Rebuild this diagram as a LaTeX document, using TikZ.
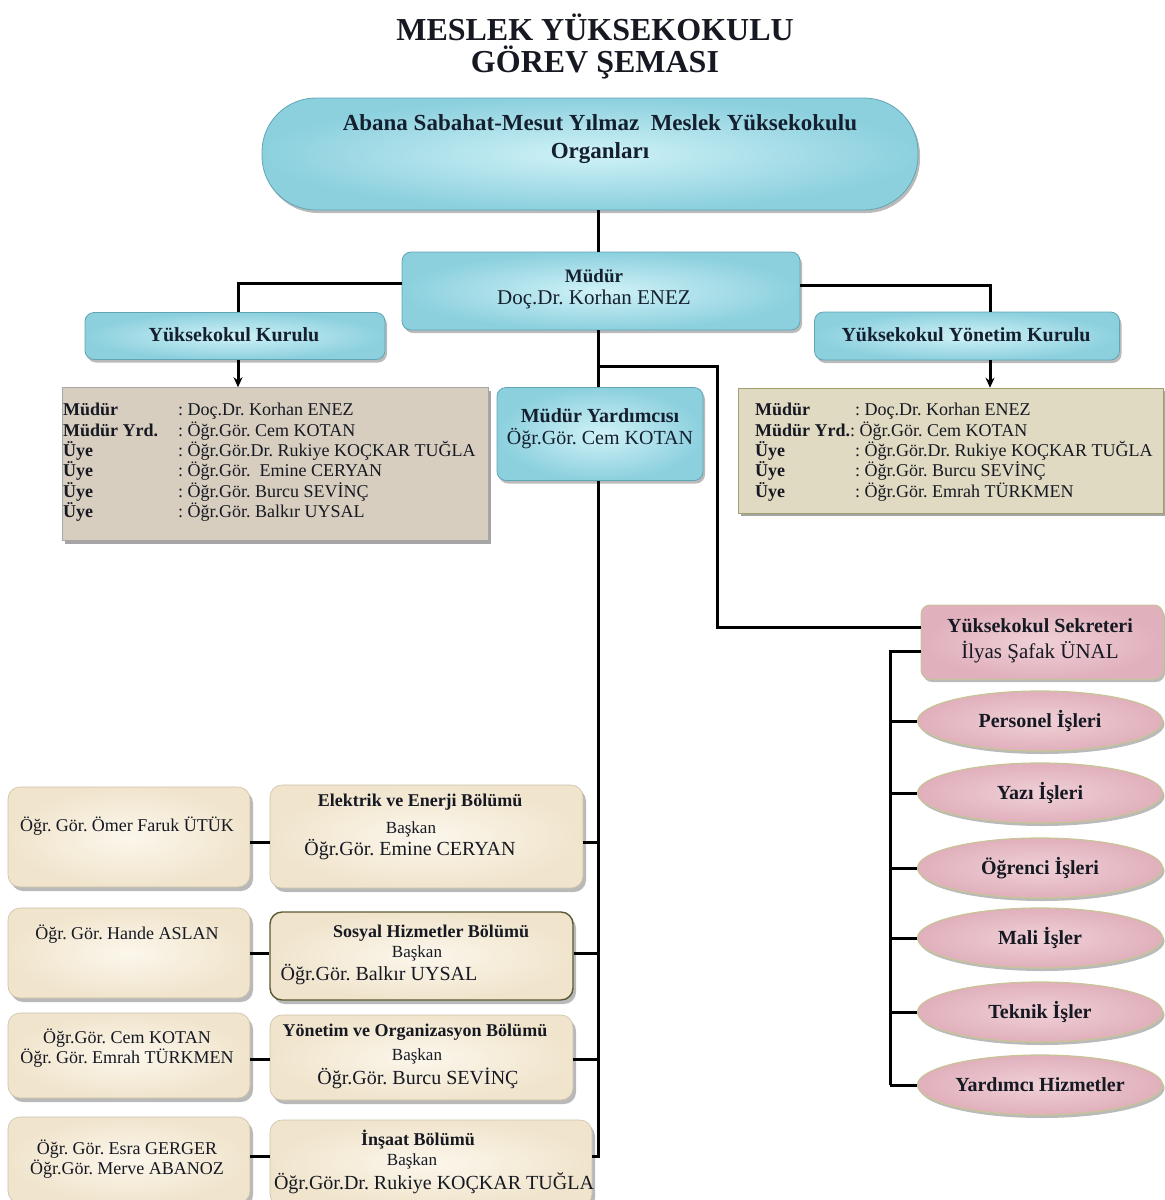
\documentclass[tikz,border=0pt]{standalone}
\usepackage{fontspec}
\setmainfont{Liberation Serif}
\usetikzlibrary{shadows,arrows.meta,shapes.geometric}
\definecolor{bluein}{RGB}{208,242,247}
\definecolor{blueout}{RGB}{140,208,222}
\definecolor{blueedge}{RGB}{96,165,182}
\definecolor{grayA}{RGB}{215,206,191}
\definecolor{grayB}{RGB}{224,218,194}
\definecolor{grayBedge}{RGB}{160,160,110}
\definecolor{beigein}{RGB}{252,247,236}
\definecolor{beigeout}{RGB}{240,228,204}
\definecolor{beigeedge}{RGB}{205,192,168}
\definecolor{pinkin}{RGB}{240,208,214}
\definecolor{pinkout}{RGB}{224,176,188}
\definecolor{pinkedge}{RGB}{200,196,150}
\definecolor{ink}{RGB}{22,24,34}
\definecolor{navy}{RGB}{20,32,48}
\definecolor{olivedge}{RGB}{90,90,50}
\newcommand{\fsz}[2]{\fontsize{#1}{#2}\selectfont}
\frenchspacing
\begin{document}
\frenchspacing
\begin{tikzpicture}[x=1pt,y=-1pt,
  conn/.style={line width=3pt,draw=black},
  arr/.style={conn,-{Stealth[length=10pt,width=9pt]}},
  softshadow/.style={drop shadow={shadow xshift=2pt,shadow yshift=-3pt,opacity=0.45,fill=black!60}},
  bluebox/.style={rectangle,rounded corners=9pt,inner color=bluein,outer color=blueout,draw=blueedge,line width=0.8pt,inner sep=0pt,softshadow},
  graybox/.style={rectangle,fill=grayA,draw=black!35,line width=0.6pt,inner sep=0pt,drop shadow={shadow xshift=3pt,shadow yshift=-3pt,opacity=0.5,fill=black!70}},
  beigebox/.style={rectangle,rounded corners=12pt,inner color=beigein,outer color=beigeout,draw=beigeedge,line width=0.6pt,inner sep=0pt,drop shadow={shadow xshift=3pt,shadow yshift=-4pt,opacity=0.5,fill=black!55}},
  pinkbox/.style={rectangle,rounded corners=9pt,inner color=pinkin,outer color=pinkout,draw=pinkedge,line width=1pt,inner sep=0pt,softshadow},
  pinkell/.style={ellipse,inner color=pinkin,outer color=pinkout,draw=pinkedge,line width=1.2pt,inner sep=0pt,minimum width=245pt,minimum height=60pt,softshadow,text=ink,font=\fsz{20}{22}\bfseries},
  txt/.style={inner sep=0pt,align=center,text=ink},
]
\useasboundingbox (0,0) rectangle (1165,1200);

% title
\node[txt,font=\fsz{32}{32}\bfseries] (title) at (595,46) {MESLEK YÜKSEKOKULU\\GÖREV ŞEMASI};

% top organ shape
\node[bluebox,rounded corners=54pt,minimum width=656pt,minimum height=112pt] (top) at (590,154) {};
\node[txt,text=navy,font=\fsz{23}{28}\bfseries] (topt) at (600,139) {Abana Sabahat-Mesut Yılmaz\ \ Meslek Yüksekokulu\\Organları};

% Müdür
\node[bluebox,minimum width=398pt,minimum height=78pt] (mudur) at (601,291) {};
\node[txt,text=navy,font=\fsz{20}{22}] (mudurt) at (594,289) {{\fsz{19}{22}\bfseries Müdür}\\{\fsz{21}{22}Doç.Dr. Korhan ENEZ}};

% Kurullar
\node[bluebox,minimum width=300pt,minimum height=47pt] (kurulu) at (235,336) {};
\node[txt,text=navy,font=\fsz{20}{22}\bfseries] (kurulut) at (234,335) {Yüksekokul Kurulu};
\node[bluebox,minimum width=305pt,minimum height=48pt] (ykurul) at (967,336) {};
\node[txt,text=navy,font=\fsz{20}{22}\bfseries] (ykurult) at (966,335) {Yüksekokul Yönetim Kurulu};

% gray member boxes
\node[graybox,minimum width=426pt,minimum height=153pt] (g1) at (275,464) {};
\node[inner sep=0pt,align=left,anchor=north west,text=ink,font=\fsz{18}{20.4}] (g1t) at (63,403)
 {\makebox[115pt][l]{\textbf{Müdür}}: Doç.Dr. Korhan ENEZ\\
  \makebox[115pt][l]{\textbf{Müdür Yrd.}}: Öğr.Gör. Cem KOTAN\\
  \makebox[115pt][l]{\textbf{Üye}}: Öğr.Gör.Dr. Rukiye KOÇKAR TUĞLA\\
  \makebox[115pt][l]{\textbf{Üye}}: Öğr.Gör.\ \ Emine CERYAN\\
  \makebox[115pt][l]{\textbf{Üye}}: Öğr.Gör. Burcu SEVİNÇ\\
  \makebox[115pt][l]{\textbf{Üye}}: Öğr.Gör. Balkır UYSAL};
\node[graybox,fill=grayB,draw=grayBedge,minimum width=425pt,minimum height=125pt] (g2) at (950.5,450.5) {};
\node[inner sep=0pt,align=left,anchor=north west,text=ink,font=\fsz{18}{20.4}] (g2t) at (755,403)
 {\makebox[100pt][l]{\textbf{Müdür}}: Doç.Dr. Korhan ENEZ\\
  \textbf{Müdür Yrd.}: Öğr.Gör. Cem KOTAN\\
  \makebox[100pt][l]{\textbf{Üye}}: Öğr.Gör.Dr. Rukiye KOÇKAR TUĞLA\\
  \makebox[100pt][l]{\textbf{Üye}}: Öğr.Gör. Burcu SEVİNÇ\\
  \makebox[100pt][l]{\textbf{Üye}}: Öğr.Gör. Emrah TÜRKMEN};

% Müdür Yardımcısı
\node[bluebox,minimum width=206pt,minimum height=93pt] (myrd) at (600,434) {};
\node[txt,text=navy,font=\fsz{20}{22}] (myrdt) at (600,429) {\textbf{Müdür Yardımcısı}\\Öğr.Gör. Cem KOTAN};

% Sekreter
\node[pinkbox,minimum width=242pt,minimum height=74pt] (sek) at (1042,642) {};
\node[txt,font=\fsz{20}{26}] (sekt) at (1040,641) {\textbf{Yüksekokul Sekreteri}\\{\fsz{21}{26}İlyas Şafak ÜNAL}};

\node[pinkell] (e1) at (1040,721) {Personel İşleri};
\node[pinkell] (e2) at (1040,793) {Yazı İşleri};
\node[pinkell] (e3) at (1040,868) {Öğrenci İşleri};
\node[pinkell] (e4) at (1040,938) {Mali İşler};
\node[pinkell] (e5) at (1040,1012) {Teknik İşler};
\node[pinkell] (e6) at (1040,1085) {Yardımcı Hizmetler};

% departments - left
\node[beigebox,minimum width=242pt,minimum height=100pt] (l1) at (129,837) {};
\node[txt,font=\fsz{18}{20}] (l1t) at (127,826) {Öğr. Gör. Ömer Faruk ÜTÜK};
\node[beigebox,minimum width=242pt,minimum height=90pt] (l2) at (129,953) {};
\node[txt,font=\fsz{18}{20}] (l2t) at (127,934) {Öğr. Gör. Hande ASLAN};
\node[beigebox,minimum width=242pt,minimum height=85pt] (l3) at (129,1055.5) {};
\node[txt,font=\fsz{18}{17}] (l3t) at (127,1048) {Öğr.Gör. Cem KOTAN\\Öğr. Gör. Emrah TÜRKMEN};
\node[beigebox,minimum width=242pt,minimum height=86pt] (l4) at (129,1160) {};
\node[txt,font=\fsz{18}{17}] (l4t) at (127,1159) {Öğr. Gör. Esra GERGER\\Öğr.Gör. Merve ABANOZ};

% departments - right
\node[beigebox,minimum width=313pt,minimum height=103pt] (r1) at (426.5,836.5) {};
\node[txt,font=\fsz{18}{20}\bfseries] (r1a) at (420,802) {Elektrik ve Enerji Bölümü};
\node[txt,font=\fsz{17}{20}] (r1b) at (411,829) {Başkan};
\node[txt,font=\fsz{20}{22}] (r1c) at (410,850) {Öğr.Gör. Emine CERYAN};

\node[beigebox,draw=olivedge,line width=1.4pt,minimum width=303pt,minimum height=88pt] (r2) at (421.5,956) {};
\node[txt,font=\fsz{18}{20}\bfseries] (r2a) at (431,933) {Sosyal Hizmetler Bölümü};
\node[txt,font=\fsz{17}{20}] (r2b) at (417,953) {Başkan};
\node[txt,font=\fsz{20}{22}] (r2c) at (379,975) {Öğr.Gör. Balkır UYSAL};

\node[beigebox,minimum width=303pt,minimum height=85pt] (r3) at (421.5,1057.5) {};
\node[txt,font=\fsz{18}{20}\bfseries] (r3a) at (415,1032) {Yönetim ve Organizasyon Bölümü};
\node[txt,font=\fsz{17}{20}] (r3b) at (417,1056) {Başkan};
\node[txt,font=\fsz{20}{22}] (r3c) at (418,1078) {Öğr.Gör. Burcu SEVİNÇ};

\node[beigebox,minimum width=322pt,minimum height=86pt] (r4) at (431,1163) {};
\node[txt,font=\fsz{18}{20}\bfseries] (r4a) at (418,1140) {İnşaat Bölümü};
\node[txt,font=\fsz{17}{20}] (r4b) at (412,1161) {Başkan};
\node[txt,font=\fsz{20}{22}] (r4c) at (434,1183) {Öğr.Gör.Dr. Rukiye KOÇKAR TUĞLA};

% connectors
\coordinate (tk) at (598,0);
\draw[conn] (top.south -| tk) -- (mudur.north -| tk);
\coordinate (mL) at (0,283);
\coordinate (vL) at (238,0);
\draw[conn] (mudur.west |- mL) -| (kurulu.north -| vL);
\coordinate (mR) at (0,285);
\coordinate (vR) at (990,0);
\draw[conn] (mudur.east |- mR) -| (ykurul.north -| vR);
\draw[arr] (kurulu.south -| vL) -- (g1.north -| vL);
\draw[arr] (ykurul.south -| vR) -- (g2.north -| vR);
\draw[conn] (mudur.south -| tk) -- (myrd.north -| tk);
\coordinate (tkend) at (598,1158);
\draw[conn] (myrd.south -| tk) -- (tkend);
\coordinate (b1) at (598,366);
\coordinate (b2) at (717,627);
\draw[conn] (b1) -| (b2) -- (sek.west |- b2);
\coordinate (s1) at (890,651);
\draw[conn] (sek.west |- s1) -- (s1) -- (s1 |- e6.west);
\foreach \e in {e1,e2,e3,e4,e5,e6} \draw[conn] (s1 |- \e.west) -- (\e.west);

\coordinate (h1) at (0,842);
\coordinate (h2) at (0,953);
\coordinate (h3) at (0,1059);
\coordinate (h4) at (0,1156);
\foreach \i in {1,2,3,4} {
  \draw[conn] (l\i.east |- h\i) -- (r\i.west |- h\i);
  \draw[conn] (r\i.east |- h\i) -- (h\i -| tk);
}
\end{tikzpicture}
\end{document}
